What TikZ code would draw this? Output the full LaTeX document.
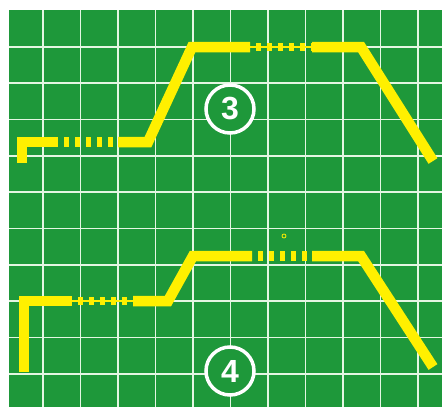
\documentclass[tikz,border=0pt]{standalone}
\usepackage{fontspec}
\setmainfont{Liberation Sans}
\definecolor{bggreen}{RGB}{30,152,58}
\definecolor{gridw}{RGB}{228,246,226}
\definecolor{tracey}{RGB}{255,240,0}
\begin{document}
\begin{tikzpicture}[x=1pt,y=-1pt,
  tracepath/.style={draw=tracey, line width=10.5pt, line join=miter, line cap=butt},
  dashfull/.style={draw=tracey, line width=10.5pt, dash pattern=on 5pt off 6pt, dash phase=5pt},
  dashthin/.style={draw=tracey, line width=8.5pt, dash pattern=on 5pt off 6pt, dash phase=5pt},
  linkline/.style={draw=tracey, line width=2pt},
  gridline/.style={draw=gridw, line width=1.7pt},
  numcircle/.style={circle, draw=white, line width=3.5pt, fill=bggreen, minimum size=48pt, inner sep=0pt,
    text=white, font=\fontsize{32}{32}\selectfont\bfseries}]
\useasboundingbox (0,0) rectangle (442,407);
\fill[white] (0,0) rectangle (442,407);
\fill[bggreen] (9,10) rectangle (442,407);
% grid
\foreach \i in {0,...,10} { \draw[gridline] ({43+37.5*\i},10) -- ({43+37.5*\i},407); }
\foreach \j in {0,...,9} { \draw[gridline] (9,{47+36.3*\j}) -- (442,{47+36.3*\j}); }
% trace 3
\coordinate (a0) at (22,163);
\coordinate (a1) at (22,142);
\coordinate (a2) at (58,142);
\coordinate (a3) at (118,142);
\coordinate (a4) at (148,142);
\coordinate (a5) at (192,47);
\coordinate (a6) at (250,47);
\coordinate (a7) at (312,47);
\coordinate (a8) at (361,47);
\coordinate (a9) at (433,161);
\draw[tracepath] (a0) -- (a1) -- (a2);
\draw[dashfull] (a2) -- (a3);
\draw[tracepath] (a3) -- (a4) -- (a5) -- (a6);
\draw[linkline] (a6) -- (a7);
\draw[dashthin] (a6) -- (a7);
\draw[tracepath] (a7) -- (a8) -- (a9);
% trace 4
\coordinate (b0) at (24,372);
\coordinate (b1) at (24,301);
\coordinate (b2) at (72,301);
\coordinate (b3) at (133,301);
\coordinate (b4) at (168,301);
\coordinate (b5) at (193,256);
\coordinate (b6) at (252,256);
\coordinate (b7) at (312,256);
\coordinate (b8) at (361,256);
\coordinate (b9) at (433,367);
\draw[tracepath] (b0) -- (b1) -- (b2);
\draw[linkline] (b2) -- (b3);
\draw[dashthin] (b2) -- (b3);
\draw[tracepath] (b3) -- (b4) -- (b5) -- (b6);
\draw[dashfull] (b6) -- (b7);
\draw[tracepath] (b7) -- (b8) -- (b9);
% small ring
\draw[tracey, line width=0.8pt] (284,236) circle (2pt);
% labels
\node[numcircle] (n3) at (230,109) {3};
\node[numcircle] (n4) at (230,371) {4};
\end{tikzpicture}
\end{document}
